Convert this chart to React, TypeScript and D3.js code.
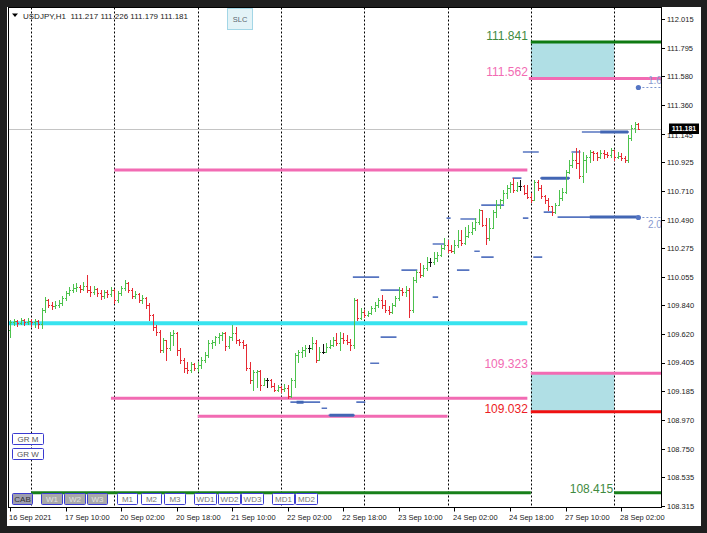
import React from 'react';
import * as d3 from 'd3';

// USDJPY H1, one value per hourly bar from 16 Sep 18:00 to 28 Sep 07:00
const firstOpen = 109.651;
const closes = [
  109.712, 109.719, 109.704, 109.727, 109.712, 109.719, 109.712, 109.719, 109.697, 109.803,
  109.879, 109.841, 109.833, 109.841, 109.856, 109.894, 109.932, 109.955, 109.970, 109.978,
  109.963, 109.985, 109.955, 109.940, 109.963, 109.932, 109.909, 109.940, 109.925, 109.955,
  109.879, 109.932, 109.970, 110.008, 109.955, 109.909, 109.925, 109.879, 109.894, 109.841,
  109.765, 109.674, 109.636, 109.499, 109.575, 109.514, 109.613, 109.628, 109.499, 109.423,
  109.362, 109.347, 109.393, 109.362, 109.385, 109.423, 109.461, 109.552, 109.560, 109.598,
  109.613, 109.628, 109.529, 109.598, 109.628, 109.575, 109.560, 109.537, 109.362, 109.271,
  109.332, 109.339, 109.233, 109.271, 109.271, 109.225, 109.195, 109.218, 109.203, 109.210,
  109.149, 109.271, 109.461, 109.484, 109.499, 109.514, 109.514, 109.552, 109.423, 109.484,
  109.484, 109.522, 109.537, 109.575, 109.552, 109.590, 109.575, 109.560, 109.537, 109.879,
  109.742, 109.788, 109.765, 109.780, 109.818, 109.841, 109.879, 109.841, 109.803, 109.788,
  109.841, 109.894, 109.955, 109.940, 109.955, 109.803, 110.031, 110.092, 110.069, 110.122,
  110.168, 110.168, 110.198, 110.221, 110.274, 110.297, 110.259, 110.251, 110.297, 110.335,
  110.312, 110.365, 110.396, 110.426, 110.472, 110.563, 110.449, 110.350, 110.426, 110.548,
  110.601, 110.639, 110.692, 110.730, 110.761, 110.715, 110.745, 110.745, 110.692, 110.662,
  110.639, 110.776, 110.730, 110.669, 110.639, 110.593, 110.548, 110.601, 110.654, 110.700,
  110.852, 110.905, 110.943, 110.920, 110.821, 110.943, 110.966, 111.004, 110.996, 110.966,
  110.996, 110.989, 110.981, 111.019, 110.966, 110.973, 110.958, 110.943, 111.110, 111.186,
  111.217, 111.181,
];
const highs = [
  109.727, 109.735, 109.727, 109.742, 109.735, 109.742, 109.735, 109.735, 109.727, 109.818,
  109.902, 109.886, 109.864, 109.871, 109.879, 109.909, 109.947, 109.978, 110.001, 110.008,
  109.993, 110.016, 110.069, 109.985, 109.985, 109.970, 109.955, 109.955, 109.955, 109.978,
  109.963, 109.947, 109.985, 110.031, 110.016, 109.970, 109.947, 109.932, 109.917, 109.902,
  109.856, 109.773, 109.689, 109.651, 109.590, 109.575, 109.636, 109.651, 109.636, 109.514,
  109.438, 109.408, 109.408, 109.400, 109.408, 109.446, 109.484, 109.575, 109.575, 109.605,
  109.628, 109.636, 109.636, 109.605, 109.689, 109.674, 109.582, 109.575, 109.545, 109.408,
  109.347, 109.347, 109.347, 109.286, 109.286, 109.278, 109.248, 109.233, 109.225, 109.240,
  109.233, 109.286, 109.476, 109.499, 109.522, 109.537, 109.537, 109.598, 109.575, 109.522,
  109.544, 109.552, 109.575, 109.598, 109.628, 109.636, 109.628, 109.613, 109.582, 109.894,
  109.886, 109.818, 109.803, 109.795, 109.833, 109.864, 109.894, 109.917, 109.879, 109.833,
  109.856, 109.909, 109.978, 109.970, 109.985, 109.970, 110.054, 110.107, 110.160, 110.145,
  110.206, 110.198, 110.244, 110.244, 110.297, 110.350, 110.335, 110.297, 110.335, 110.411,
  110.411, 110.434, 110.449, 110.472, 110.502, 110.571, 110.563, 110.502, 110.502, 110.563,
  110.639, 110.647, 110.715, 110.753, 110.776, 110.806, 110.776, 110.791, 110.753, 110.753,
  110.692, 110.791, 110.791, 110.753, 110.677, 110.654, 110.593, 110.616, 110.715, 110.730,
  110.867, 110.943, 110.996, 111.034, 111.019, 111.004, 110.981, 111.019, 111.011, 111.004,
  111.019, 111.019, 111.004, 111.034, 111.019, 111.004, 110.996, 110.973, 111.133, 111.209,
  111.232, 111.226,
];
const lows = [
  109.598, 109.689, 109.681, 109.697, 109.689, 109.697, 109.681, 109.674, 109.666, 109.666,
  109.788, 109.826, 109.811, 109.818, 109.826, 109.841, 109.879, 109.917, 109.940, 109.947,
  109.940, 109.955, 109.940, 109.909, 109.925, 109.909, 109.886, 109.894, 109.902, 109.909,
  109.856, 109.864, 109.917, 109.955, 109.940, 109.894, 109.894, 109.864, 109.856, 109.818,
  109.727, 109.651, 109.613, 109.484, 109.484, 109.423, 109.499, 109.537, 109.461, 109.400,
  109.332, 109.324, 109.332, 109.347, 109.339, 109.362, 109.408, 109.446, 109.514, 109.537,
  109.552, 109.575, 109.499, 109.514, 109.575, 109.552, 109.537, 109.514, 109.347, 109.248,
  109.195, 109.218, 109.195, 109.233, 109.218, 109.218, 109.187, 109.187, 109.180, 109.187,
  109.134, 109.142, 109.218, 109.408, 109.446, 109.453, 109.484, 109.506, 109.408, 109.423,
  109.476, 109.484, 109.514, 109.529, 109.537, 109.499, 109.552, 109.544, 109.499, 109.514,
  109.727, 109.735, 109.750, 109.757, 109.773, 109.795, 109.826, 109.818, 109.788, 109.773,
  109.780, 109.833, 109.879, 109.917, 109.909, 109.750, 109.788, 110.016, 110.054, 110.061,
  110.107, 110.137, 110.153, 110.175, 110.213, 110.266, 110.244, 110.244, 110.236, 110.282,
  110.297, 110.305, 110.358, 110.381, 110.411, 110.457, 110.442, 110.305, 110.335, 110.426,
  110.510, 110.578, 110.616, 110.654, 110.700, 110.700, 110.707, 110.715, 110.685, 110.654,
  110.624, 110.639, 110.715, 110.654, 110.616, 110.563, 110.525, 110.540, 110.601, 110.639,
  110.692, 110.844, 110.890, 110.882, 110.806, 110.776, 110.852, 110.928, 110.943, 110.943,
  110.958, 110.958, 110.966, 110.966, 110.943, 110.958, 110.943, 110.928, 110.928, 111.095,
  111.156, 111.179,
];

const priceTicks = [
  112.015, 111.795, 111.58, 111.36, 111.145, 110.925, 110.71, 110.49, 110.275,
  110.055, 109.84, 109.62, 109.405, 109.185, 108.97, 108.75, 108.535, 108.315,
];
const timeLabels = [
  '16 Sep 2021', '17 Sep 10:00', '20 Sep 02:00', '20 Sep 18:00', '21 Sep 10:00', '22 Sep 02:00',
  '22 Sep 18:00', '23 Sep 10:00', '24 Sep 02:00', '24 Sep 18:00', '27 Sep 10:00', '28 Sep 02:00',
];
const timeLabelBars = [0, 16, 32, 48, 64, 80, 96, 112, 128, 144, 160, 176];
const dayStartBars = [6, 30, 54, 78, 102, 126, 150, 174];

// horizontal levels: pink high, cyan pivot, pink low, pink low 2, green target
const levelPrices = [110.867, 109.704, 109.134, 108.997, 108.415];
const levelFrom = [30, -3, 29, 54, 6];
const levelTo = [149, 149, 149, 126, 150];

// projection zones
const zoneFrom = 150;
const zoneTo = 174;
const upperZone = [111.841, 111.562];
const lowerZone = [109.323, 109.032];
const bottomTarget = 108.415;

// small blue signal dashes
const signalPrices = [
  110.054, 109.955, 110.107, 110.305, 110.495, 110.107, 110.206, 110.251, 110.601, 109.902,
  109.598, 109.400, 109.104, 109.058, 109.005, 109.104, 111.004, 110.806, 110.806, 111.004,
  111.156, 110.510, 110.548, 110.206, 110.502, 110.502,
];
const signalFrom = [99, 107, 113, 122, 130, 129, 136, 134, 136, 122, 107, 104, 81, 90, 92, 100, 148, 145, 153, 162, 165, 158, 154, 151, 126, 148];
const signalTo = [106, 112, 117, 125, 134, 132, 139, 135, 142, 123, 111, 106, 89, 91, 99, 102, 152, 147, 161, 164, 178, 181, 156, 153, 126.6, 149];
const heavyPrices = [109.005, 110.806, 111.156, 110.510, 109.104];
const heavyFrom = [92, 153, 170, 167, 82.5];
const heavyTo = [99, 161, 178, 181, 84.5];

const ratioPrices = [111.498, 110.51];
const ratioLabels = ['1.6', '2.0'];
const ratioBar = 181;

const lastPrice = 111.181;
const headerText = 'USDJPY,H1  111.217 111.226 111.179 111.181';
const sideButtons = ['GR M', 'GR W'];
const bottomButtons = ['CAB', 'W1', 'W2', 'W3', 'M1', 'M2', 'M3', 'WD1', 'WD2', 'WD3', 'MD1', 'MD2'];

const W = 707;
const H = 533;
const plot = { left: 8.5, top: 7.5, right: 661.5, bottom: 507.5 };
const font = "'Liberation Sans', Arial, sans-serif";

const PINK = '#f26bb3';
const levelColors = [PINK, '#38e3ef', PINK, PINK, '#17801a'];
const levelWidths = [3, 4, 3, 3, 3];
const btnX = [12, 41, 64, 87, 117, 141, 164, 194, 218, 241, 272, 295];
const btnW = [20, 21, 21, 20, 20, 20, 21, 22, 22, 22, 22, 22];

export default function App() {
  const x = d3.scaleLinear().domain([0, closes.length - 1]).range([10.3, 638.4]);
  const y = d3.scaleLinear().domain([108.315, 112.015]).range([506, 19]);
  const py = (v: number) => Math.round(y(v)) + 0.5;
  const px = (i: number) => Math.round(x(i)) + 0.5;

  const bars = closes.map((c, i) => {
    const o = i === 0 ? firstOpen : closes[i - 1];
    const cx = px(i);
    const col = c > o ? '#4cc24c' : c < o ? '#e62a33' : '#111';
    const d = `M${cx},${py(highs[i]) - 0.5}V${py(lows[i]) + 0.5}M${cx - 1.5},${py(o)}H${cx}M${cx},${py(c)}H${cx + 1.5}`;
    return <path key={i} d={d} stroke={col} strokeWidth={1} fill="none" />;
  });

  const right = plot.right;

  return (
    <div style={{ position: 'absolute', left: 0, top: 0, width: W, height: H }}>
      <svg width={W} height={H} style={{ display: 'block' }} fontFamily={font}>
        <defs>
          <clipPath id="plotClip">
            <rect x={plot.left} y={plot.top} width={plot.right - plot.left} height={plot.bottom - plot.top} />
          </clipPath>
        </defs>
        <rect x={0} y={0} width={W} height={H} fill="#1f1f1f" />
        <rect x={7} y={7} width={694} height={519} fill="#ffffff" />

        <g clipPath="url(#plotClip)">
          {/* projection zones */}
          <rect x={x(zoneFrom)} y={y(upperZone[0])} width={x(zoneTo) - x(zoneFrom)} height={y(upperZone[1]) - y(upperZone[0])} fill="#b0dfe5" />
          <rect x={x(zoneFrom)} y={y(lowerZone[0])} width={x(zoneTo) - x(zoneFrom)} height={y(lowerZone[1]) - y(lowerZone[0])} fill="#b0dfe5" />

          {/* day separators */}
          {dayStartBars.map((b) => (
            <line key={b} x1={px(b)} x2={px(b)} y1={plot.top} y2={plot.bottom} stroke="#000" strokeWidth={1} strokeDasharray="2,2" />
          ))}

          {/* current price line */}
          <line x1={plot.left} x2={right} y1={py(lastPrice)} y2={py(lastPrice)} stroke="#c4c4c4" strokeWidth={1} />

          {levelPrices.map((p, i) => (
            <line key={i} x1={x(levelFrom[i])} x2={x(levelTo[i])} y1={y(p)} y2={y(p)} stroke={levelColors[i]} strokeWidth={levelWidths[i]} />
          ))}

          <line x1={x(zoneFrom)} x2={right} y1={y(upperZone[0])} y2={y(upperZone[0])} stroke="#0e7a12" strokeWidth={3} />
          <line x1={x(zoneFrom) - 2} x2={right} y1={y(upperZone[1])} y2={y(upperZone[1])} stroke={PINK} strokeWidth={3} />
          <line x1={x(zoneFrom)} x2={right} y1={y(lowerZone[0])} y2={y(lowerZone[0])} stroke={PINK} strokeWidth={3} />
          <line x1={x(zoneFrom)} x2={right} y1={y(lowerZone[1])} y2={y(lowerZone[1])} stroke="#f01010" strokeWidth={3} />
          <line x1={x(zoneTo)} x2={right} y1={y(bottomTarget)} y2={y(bottomTarget)} stroke="#17801a" strokeWidth={3} />

          {/* signal dashes */}
          {signalPrices.map((p, i) => (
            <line key={i} x1={x(signalFrom[i]) - 1} x2={x(signalTo[i]) + 1} y1={y(p)} y2={y(p)} stroke="#5674c0" strokeWidth={1.6} />
          ))}
          {heavyPrices.map((p, i) => (
            <line key={i} x1={x(heavyFrom[i])} x2={x(heavyTo[i])} y1={y(p)} y2={y(p)} stroke="#4266b4" strokeWidth={3} />
          ))}

          {ratioPrices.map((p, i) => (
            <g key={i}>
              <line x1={x(ratioBar)} x2={right} y1={py(p)} y2={py(p)} stroke="#7d97d2" strokeWidth={1} strokeDasharray="2,2" />
              <circle cx={x(ratioBar)} cy={py(p)} r={2.6} fill="#5576c4" />
              <text x={648} y={py(p) + (i === 0 ? -4 : 10)} fontSize={10} fill="#8a9ad0">{ratioLabels[i]}</text>
            </g>
          ))}

          {bars}

          {/* zone labels */}
          <text x={x(zoneFrom) - 3} y={40} fontSize={12} fill="#3f8a3f" textAnchor="end">{upperZone[0].toFixed(3)}</text>
          <text x={x(zoneFrom) - 3} y={76} fontSize={12} fill={PINK} textAnchor="end">{upperZone[1].toFixed(3)}</text>
          <text x={x(zoneFrom) - 3} y={368} fontSize={12} fill={PINK} textAnchor="end">{lowerZone[0].toFixed(3)}</text>
          <text x={x(zoneFrom) - 3} y={413} fontSize={12} fill="#ec1c24" textAnchor="end">{lowerZone[1].toFixed(3)}</text>
          <text x={x(zoneTo) - 1} y={493} fontSize={12} fill="#3f8a3f" textAnchor="end">{bottomTarget.toFixed(3)}</text>
        </g>

        {/* plot frame */}
        <rect x={plot.left} y={plot.top} width={plot.right - plot.left} height={plot.bottom - plot.top} fill="none" stroke="#000" strokeWidth={1} />

        {/* price axis */}
        {priceTicks.map((t) => (
          <g key={t}>
            <line x1={right} x2={right + 3.5} y1={py(t)} y2={py(t)} stroke="#000" />
            <text x={667} y={y(t) + 2.8 + (t === 111.145 ? 1.5 : 0)} fontSize={7.5} fill="#222">{t.toFixed(3)}</text>
          </g>
        ))}
        <rect x={669} y={py(lastPrice) - 6} width={30} height={10.5} fill="#000" />
        <text x={684} y={py(lastPrice) + 1.8} fontSize={7} fontWeight="bold" fill="#fff" textAnchor="middle">{lastPrice.toFixed(3)}</text>

        {/* time axis */}
        {timeLabelBars.map((b, i) => (
          <g key={b}>
            <line x1={px(b)} x2={px(b)} y1={plot.bottom} y2={plot.bottom + 4} stroke="#000" />
            <text x={px(b) - 1.5} y={520} fontSize={7.5} fill="#222">{timeLabels[i]}</text>
          </g>
        ))}

        {/* header */}
        <path d="M12,13.5 L18,13.5 L15,17 Z" fill="#000" />
        <text x={23} y={18.5} fontSize={8} fill="#222" style={{ whiteSpace: 'pre' }}>{headerText}</text>
        <rect x={227.5} y={8.5} width={25} height={21} fill="#e3f3f7" stroke="#a3d6e6" />
        <text x={240} y={22} fontSize={7.5} fill="#5a6670" textAnchor="middle">SLC</text>

        {/* buttons */}
        {sideButtons.map((b, i) => (
          <g key={b}>
            <rect x={12.5} y={433.5 + i * 15} width={31} height={11} fill="#fff" stroke="#3b3bd0" rx={1} />
            <text x={28} y={442 + i * 15} fontSize={8} fill="#555" textAnchor="middle">{b}</text>
          </g>
        ))}
        {bottomButtons.map((b, i) => (
          <g key={b}>
            <rect x={btnX[i] + 0.5} y={493.5} width={btnW[i]} height={11} fill={i === 0 ? '#9e9eb0' : i < 4 ? '#a9a9a9' : '#fff'} stroke="#3b3bd0" rx={1} />
            <text x={btnX[i] + btnW[i] / 2 + 0.5} y={502} fontSize={8} fill={i === 0 ? '#333' : i < 4 ? '#e2e2e2' : '#777'} textAnchor="middle">{b}</text>
          </g>
        ))}
      </svg>
    </div>
  );
}
